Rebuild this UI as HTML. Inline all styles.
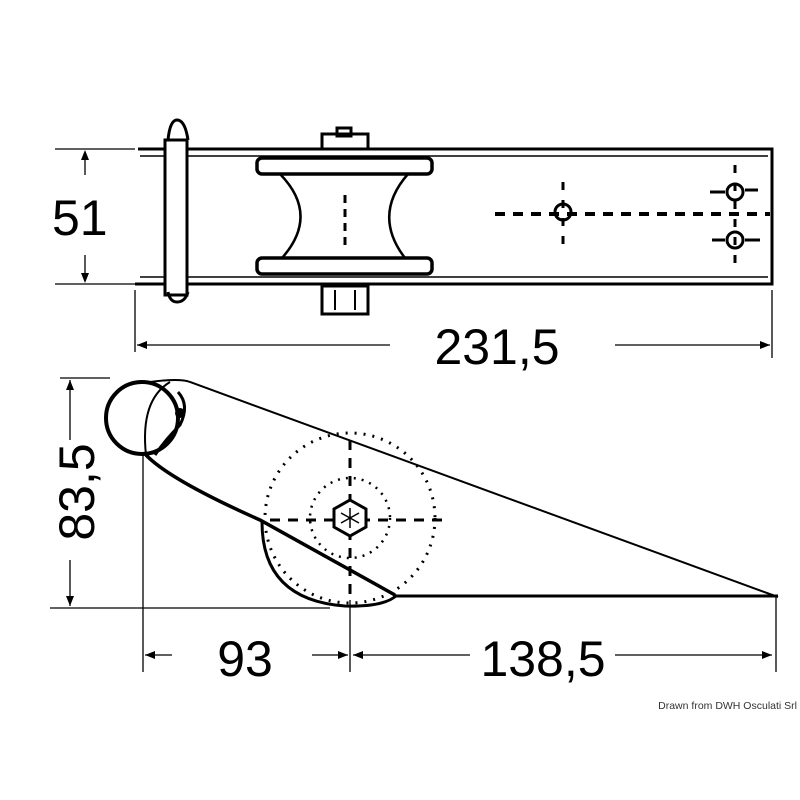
<!DOCTYPE html>
<html><head><style>body{margin:0;background:#fff}svg{display:block}</style></head><body>
<svg width="800" height="800" viewBox="0 0 800 800" xmlns="http://www.w3.org/2000/svg" font-family="Liberation Sans, sans-serif">
<g fill="none" stroke="#000" stroke-width="3">
<path d="M138 149 H772 V284 H135"/>
<path d="M140 156 H768" stroke-width="1.5"/>
<path d="M140 277 H768" stroke-width="1.5"/>
<rect x="165" y="140" width="22" height="155" fill="#fff"/>
<path d="M168 140 Q170 120 177 120 Q185 120 188 140" />
<path d="M168 292 Q170 302 177 302 Q185 302 188 292"/>
<rect x="322" y="134" width="46" height="15" fill="#fff"/>
<rect x="337" y="128" width="14" height="8" />
<rect x="322" y="286" width="46" height="28" fill="#fff"/>
<path d="M335 290 V310 M355 290 V310" stroke-width="2"/>
<rect x="257" y="158" width="175" height="16" rx="5" fill="#fff" stroke-width="3.5"/>
<rect x="257" y="258" width="175" height="16" rx="5" fill="#fff" stroke-width="3.5"/>
<path d="M280 174 Q320 215 282 258 M408 174 Q372 215 405 258" stroke-width="2.5"/>
<path d="M345 195 V250" stroke-dasharray="8 6" stroke-width="3"/>
<circle cx="563" cy="212" r="8"/>
<circle cx="735" cy="192" r="8"/>
<circle cx="735" cy="240" r="8"/>
<path d="M495 214 H770" stroke-dasharray="10 8" stroke-width="4"/>
<path d="M563 182 V245 M735 165 V270" stroke-dasharray="8 10" stroke-width="3"/>
<path d="M710 192 H725 M745 190 H758 M712 240 H725 M745 240 H760" stroke-width="3"/>
</g>
<g stroke="#000" stroke-width="1.3" fill="none">
<path d="M55 149 H135 M55 284 H135"/>
<path d="M85 152 V175 M85 255 V281"/>
<path d="M135 290 V352 M772 290 V358"/>
<path d="M137 345 H390 M615 345 H770"/>
<path d="M60 378 H110 M50 608 H330"/>
<path d="M70 380 V440 M70 560 V606"/>
<path d="M143 455 V672 M350 600 V672 M776 597 V672"/>
<path d="M145 655 H172 M312 655 H348 M353 655 H470 M615 655 H772"/>
</g>
<g fill="#000">
<path d="M85 150 l-4 10 h8z M85 283 l-4 -10 h8z"/>
<path d="M137 345 l10 -4 v8z M770 345 l-10 -4 v8z"/>
<path d="M70 380 l-4 10 h8z M70 606 l-4 -10 h8z"/>
<path d="M145 655 l10 -4 v8z M348 655 l-10 -4 v8z M353 655 l10 -4 v8z M772 655 l-10 -4 v8z"/>
</g>
<g fill="none" stroke="#000">
<circle cx="142" cy="418" r="36" stroke-width="4"/>
<path d="M150 382 Q180 378 190 382 L778 597" stroke-width="2"/>
<path d="M170 382 Q140 400 146 455" stroke-width="2"/>
<path d="M178 392 Q190 405 180 425 Q165 440 155 455" stroke-width="3"/>
<circle cx="180" cy="413" r="5" fill="#000" stroke="none"/>
<path d="M146 455 Q170 480 260 520 L395 595" stroke-width="3.5"/>
<path d="M393 596 H778" stroke-width="3"/>
<path d="M262 522 Q262 600 345 606 Q385 607 397 595" stroke-width="3"/>
<circle cx="350" cy="518" r="85" stroke-width="3" stroke-dasharray="2 7"/>
<circle cx="350" cy="518" r="40" stroke-width="2.5" stroke-dasharray="2 6"/>
<path d="M270 520 H450 M350 440 V600" stroke-width="3" stroke-dasharray="10 8"/>
<polygon points="350,500 366,509 366,527 350,536 334,527 334,509" stroke-width="3" fill="#fff"/>
<path d="M350 508 V528 M341 513 L359 523 M359 513 L341 523" stroke-width="1.5"/>
</g>
<g font-size="50" fill="#000">
<text x="52" y="235">51</text>
<text x="497" y="364" text-anchor="middle">231,5</text>
<text x="245" y="676" text-anchor="middle">93</text>
<text x="543" y="676" text-anchor="middle">138,5</text>
<text transform="translate(94 492) rotate(-90)" text-anchor="middle">83,5</text>
</g>
<text x="797" y="709" font-size="10.5" text-anchor="end" fill="#333">Drawn from DWH Osculati Srl</text>
</svg>
</body></html>
